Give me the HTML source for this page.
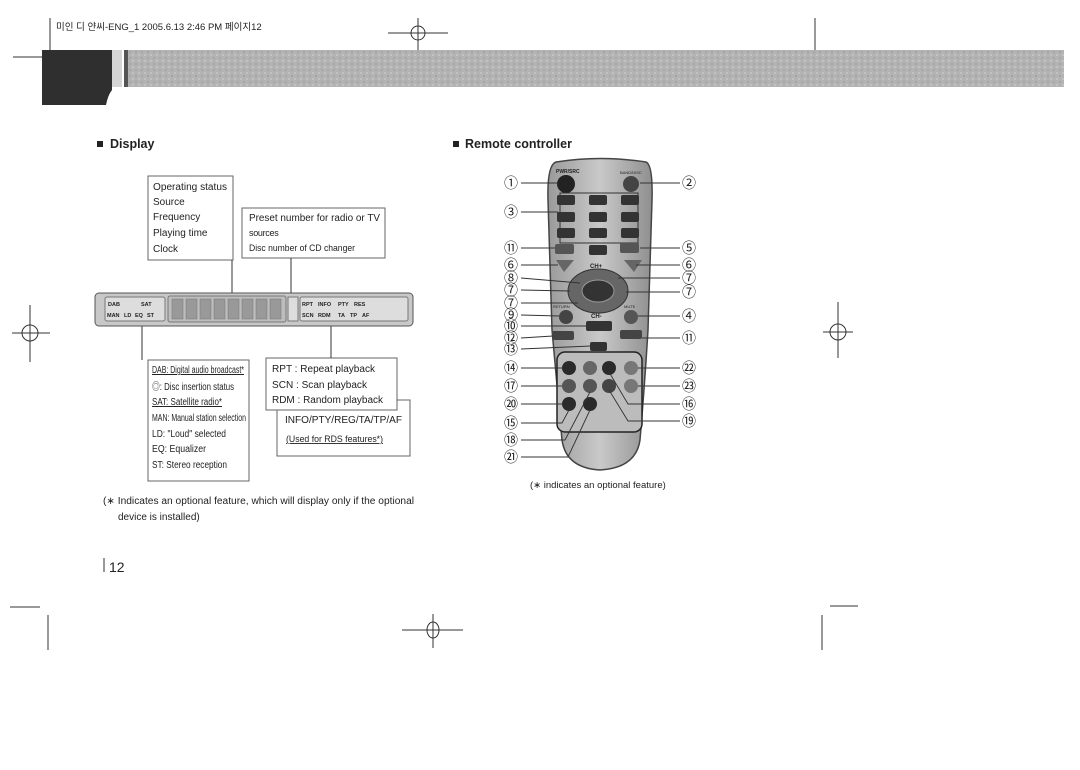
<!DOCTYPE html>
<html><head><meta charset="utf-8"><style>
html,body{margin:0;padding:0;background:#fff;width:1080px;height:770px;overflow:hidden}
svg{display:block}
text{font-family:"Liberation Sans","Noto Sans CJK KR",sans-serif;fill:#222}
</style></head><body>
<svg width="1080" height="770" viewBox="0 0 1080 770" xmlns="http://www.w3.org/2000/svg">
<defs>
<pattern id="tex" width="6" height="6" patternUnits="userSpaceOnUse">
<rect width="6" height="6" fill="#b3b3b3"/><rect x="0" y="0" width="2" height="2" fill="#c2c2c2"/><rect x="3" y="3" width="2" height="2" fill="#a6a6a6"/></pattern>
<linearGradient id="rg" x1="0" x2="1"><stop offset="0" stop-color="#9a9a9a"/><stop offset=".5" stop-color="#c9c9c9"/><stop offset="1" stop-color="#8f8f8f"/></linearGradient>
</defs>
<g stroke="#333" stroke-width="1" fill="none">
<line x1="50" y1="18" x2="50" y2="52"/>
<line x1="13" y1="57" x2="44" y2="57"/>
<line x1="388" y1="33" x2="448" y2="33"/><line x1="418" y1="18" x2="418" y2="50"/><circle cx="418" cy="33" r="7"/>
<line x1="815" y1="18" x2="815" y2="52"/>
<line x1="820" y1="57" x2="853" y2="57"/>
<line x1="30" y1="305" x2="30" y2="362"/><line x1="12" y1="333" x2="50" y2="333"/><circle cx="30" cy="333" r="8"/>
<line x1="838" y1="302" x2="838" y2="358"/><line x1="823" y1="332" x2="853" y2="332"/><circle cx="838" cy="332" r="8"/>
<line x1="10" y1="607" x2="40" y2="607"/>
<line x1="48" y1="615" x2="48" y2="650"/>
<line x1="402" y1="630" x2="463" y2="630"/><line x1="433" y1="614" x2="433" y2="648"/><ellipse cx="433" cy="630" rx="6" ry="8"/>
<line x1="830" y1="606" x2="858" y2="606"/>
<line x1="822" y1="615" x2="822" y2="650"/>
</g>
<text x="56" y="30" font-size="9.5">미인 디 얀씨-ENG_1 2005.6.13 2:46 PM 페이지12</text>
<path d="M42 50 H112 V90 Q108 95 106 105 H42 Z" fill="#2f2f2f"/>
<rect x="112" y="50" width="10" height="37" fill="#d5d5d5"/>
<rect x="124" y="50" width="940" height="37" fill="url(#tex)"/>
<rect x="124" y="50" width="4" height="37" fill="#555"/>
<rect x="97" y="141" width="6" height="6" fill="#222"/>
<text x="110" y="148" font-size="12.5" font-weight="bold">Display</text>
<rect x="453" y="141" width="6" height="6" fill="#222"/>
<text x="465" y="148" font-size="12.5" font-weight="bold">Remote controller</text>
<g fill="#fff" stroke="#666" stroke-width="1">
<rect x="148" y="176" width="85" height="84"/>
<rect x="242" y="208" width="143" height="50"/>
<rect x="148" y="360" width="101" height="121"/>
<rect x="277" y="400" width="133" height="56"/>
<rect x="266" y="358" width="131" height="52"/>
</g>
<g font-size="10">
<text x="153" y="190" textLength="74" lengthAdjust="spacingAndGlyphs">Operating status</text>
<text x="153" y="205">Source</text>
<text x="153" y="220">Frequency</text>
<text x="153" y="236">Playing time</text>
<text x="153" y="252">Clock</text>
<text x="249" y="221" textLength="131" lengthAdjust="spacingAndGlyphs">Preset number for radio or TV</text>
<text x="249" y="236" font-size="9" letter-spacing="-.3">sources</text>
<text x="249" y="251" font-size="9" textLength="106" lengthAdjust="spacingAndGlyphs">Disc number of CD changer</text>
<text x="152" y="373" text-decoration="underline" textLength="92" lengthAdjust="spacingAndGlyphs">DAB: Digital audio broadcast*</text>
<text x="152" y="390" textLength="82" lengthAdjust="spacingAndGlyphs">◎: Disc insertion status</text>
<text x="152" y="405" text-decoration="underline" textLength="70" lengthAdjust="spacingAndGlyphs">SAT: Satellite radio*</text>
<text x="152" y="421" textLength="94" lengthAdjust="spacingAndGlyphs">MAN: Manual station selection</text>
<text x="152" y="437" textLength="74" lengthAdjust="spacingAndGlyphs">LD: "Loud" selected</text>
<text x="152" y="452" textLength="54" lengthAdjust="spacingAndGlyphs">EQ: Equalizer</text>
<text x="152" y="468" textLength="75" lengthAdjust="spacingAndGlyphs">ST: Stereo reception</text>
<text x="272" y="372" textLength="103" lengthAdjust="spacingAndGlyphs">RPT :  Repeat playback</text>
<text x="272" y="388" textLength="95" lengthAdjust="spacingAndGlyphs">SCN :  Scan playback</text>
<text x="272" y="403" textLength="111" lengthAdjust="spacingAndGlyphs">RDM :  Random playback</text>
<text x="285" y="423" font-size="10.5" textLength="117" lengthAdjust="spacingAndGlyphs">INFO/PTY/REG/TA/TP/AF</text>
<text x="286" y="442" font-size="9" text-decoration="underline" textLength="97" lengthAdjust="spacingAndGlyphs">(Used for RDS features*)</text>
<text x="103" y="504" textLength="311" lengthAdjust="spacingAndGlyphs">(∗ Indicates an optional feature, which will display only if the optional</text>
<text x="118" y="520">device is installed)</text>
<text x="530" y="488" font-size="9.5">(∗ indicates an optional feature)</text>
</g>
<line x1="104" y1="558" x2="104" y2="572" stroke="#333"/>
<text x="109" y="572" font-size="14">12</text>
<g stroke="#333" stroke-width="1">
<line x1="232" y1="260" x2="232" y2="296"/>
<line x1="291" y1="258" x2="291" y2="296"/>
<line x1="142" y1="325" x2="142" y2="360"/>
<line x1="331" y1="325" x2="331" y2="358"/>
</g>
<rect x="95" y="293" width="318" height="33" rx="4" fill="#c8c8c8" stroke="#555"/>
<rect x="105" y="297" width="60" height="24" rx="2" fill="#ddd" stroke="#777"/>
<rect x="168" y="296" width="118" height="26" rx="2" fill="#bdbdbd" stroke="#777"/>
<g fill="#999" stroke="#777" stroke-width=".5">
<rect x="172" y="299" width="11" height="20"/><rect x="186" y="299" width="11" height="20"/><rect x="200" y="299" width="11" height="20"/><rect x="214" y="299" width="11" height="20"/><rect x="228" y="299" width="11" height="20"/><rect x="242" y="299" width="11" height="20"/><rect x="256" y="299" width="11" height="20"/><rect x="270" y="299" width="11" height="20"/>
</g>
<rect x="288" y="297" width="10" height="24" fill="#ddd" stroke="#777"/>
<rect x="300" y="297" width="108" height="24" rx="2" fill="#ddd" stroke="#777"/>
<g font-size="5.5" font-weight="bold">
<text x="108" y="306">DAB</text><text x="141" y="306">SAT</text>
<text x="107" y="317">MAN</text><text x="124" y="317">LD</text><text x="135" y="317">EQ</text><text x="147" y="317">ST</text>
<text x="302" y="306">RPT</text><text x="318" y="306">INFO</text><text x="338" y="306">PTY</text><text x="354" y="306">RES</text>
<text x="302" y="317">SCN</text><text x="318" y="317">RDM</text><text x="338" y="317">TA</text><text x="350" y="317">TP</text><text x="362" y="317">AF</text>
</g>
<path d="M556 162 Q600 155 646 162 Q653 165 652 200 L648 330 Q645 380 640 440 Q636 468 600 470 Q566 468 562 440 L552 330 L548 200 Q547 165 556 162 Z" fill="url(#rg)" stroke="#444" stroke-width="1.5"/>
<text x="556" y="173" font-size="5" font-weight="bold">PWR/SRC</text>
<text x="620" y="174" font-size="4">BAND/DISC</text>
<circle cx="566" cy="184" r="9" fill="#222"/>
<circle cx="631" cy="184" r="8" fill="#444"/>
<rect x="560" y="193" width="78" height="50" fill="none" stroke="#333"/>
<g fill="#333">
<rect x="557" y="195" width="18" height="10" rx="2"/><rect x="589" y="195" width="18" height="10" rx="2"/><rect x="621" y="195" width="18" height="10" rx="2"/>
<rect x="557" y="212" width="18" height="10" rx="2"/><rect x="589" y="212" width="18" height="10" rx="2"/><rect x="621" y="212" width="18" height="10" rx="2"/>
<rect x="557" y="228" width="18" height="10" rx="2"/><rect x="589" y="228" width="18" height="10" rx="2"/><rect x="621" y="228" width="18" height="10" rx="2"/>
<rect x="589" y="245" width="18" height="10" rx="2"/>
<rect x="555" y="244" width="19" height="10" rx="2" fill="#555"/><rect x="620" y="243" width="19" height="10" rx="2" fill="#555"/>
<path d="M556 260 L574 260 L564 272 Z" fill="#666"/><path d="M624 260 L642 260 L634 272 Z" fill="#666"/>
</g>
<text x="590" y="268" font-size="6" font-weight="bold">CH+</text>
<ellipse cx="598" cy="291" rx="30" ry="22" fill="#666" stroke="#333"/>
<ellipse cx="598" cy="291" rx="16" ry="11" fill="#333" stroke="#999"/>
<circle cx="566" cy="317" r="7" fill="#444"/><circle cx="631" cy="317" r="7" fill="#555"/>
<text x="553" y="308" font-size="4">RETURN</text><text x="624" y="308" font-size="4">MUTE</text>
<text x="591" y="318" font-size="6" font-weight="bold">CH-</text>
<rect x="586" y="321" width="26" height="10" rx="2" fill="#333"/>
<rect x="552" y="331" width="22" height="9" rx="2" fill="#444"/><rect x="620" y="330" width="22" height="9" rx="2" fill="#444"/>
<rect x="590" y="342" width="17" height="9" rx="2" fill="#333"/>
<rect x="557" y="352" width="85" height="80" rx="8" fill="#bcbcbc" stroke="#222" stroke-width="1.5"/>
<g fill="#2a2a2a">
<circle cx="569" cy="368" r="7"/><circle cx="590" cy="368" r="7" fill="#666"/><circle cx="609" cy="368" r="7"/><circle cx="631" cy="368" r="7" fill="#777"/>
<circle cx="569" cy="386" r="7" fill="#555"/><circle cx="590" cy="386" r="7" fill="#555"/><circle cx="609" cy="386" r="7" fill="#444"/><circle cx="631" cy="386" r="7" fill="#777"/>
<circle cx="569" cy="404" r="7"/><circle cx="590" cy="404" r="7"/>
</g>
<g stroke="#333" stroke-width=".9" fill="none">
<line x1="521" y1="183" x2="557" y2="183"/><line x1="521" y1="212" x2="558" y2="212"/>
<line x1="521" y1="248" x2="555" y2="248"/><line x1="521" y1="265" x2="558" y2="265"/>
<line x1="521" y1="278" x2="580" y2="283"/><line x1="521" y1="290" x2="570" y2="291"/>
<line x1="521" y1="303" x2="578" y2="303"/><line x1="521" y1="315" x2="559" y2="316"/>
<line x1="521" y1="326" x2="588" y2="326"/><line x1="521" y1="338" x2="553" y2="336"/>
<line x1="521" y1="349" x2="591" y2="346"/><line x1="521" y1="368" x2="562" y2="368"/>
<line x1="521" y1="386" x2="562" y2="386"/><line x1="521" y1="404" x2="562" y2="404"/>
<polyline points="521,423 562,423 569,410"/><polyline points="521,440 565,440 590,392"/>
<polyline points="521,457 568,457 590,410"/>
<line x1="640" y1="183" x2="680" y2="183"/><line x1="640" y1="248" x2="680" y2="248"/>
<line x1="636" y1="265" x2="680" y2="265"/><line x1="618" y1="278" x2="680" y2="278"/>
<line x1="626" y1="292" x2="680" y2="292"/><line x1="638" y1="316" x2="680" y2="316"/>
<line x1="642" y1="338" x2="680" y2="338"/><line x1="638" y1="368" x2="680" y2="368"/>
<line x1="638" y1="386" x2="680" y2="386"/><polyline points="680,404 628,404 609,372"/>
<polyline points="680,421 628,421 609,390"/>
</g>
<g font-size="14">
<text x="504" y="188">①</text><text x="504" y="217">③</text><text x="504" y="253">⑪</text>
<text x="504" y="270">⑥</text><text x="504" y="283">⑧</text><text x="504" y="295">⑦</text>
<text x="504" y="308">⑦</text><text x="504" y="320">⑨</text><text x="504" y="331">⑩</text>
<text x="504" y="343">⑫</text><text x="504" y="354">⑬</text><text x="504" y="373">⑭</text>
<text x="504" y="391">⑰</text><text x="504" y="409">⑳</text><text x="504" y="428">⑮</text>
<text x="504" y="445">⑱</text><text x="504" y="462">㉑</text>
<text x="682" y="188">②</text><text x="682" y="253">⑤</text><text x="682" y="270">⑥</text>
<text x="682" y="283">⑦</text><text x="682" y="297">⑦</text><text x="682" y="321">④</text>
<text x="682" y="343">⑪</text><text x="682" y="373">㉒</text><text x="682" y="391">㉓</text>
<text x="682" y="409">⑯</text><text x="682" y="426">⑲</text>
</g>
</svg>
</body></html>
